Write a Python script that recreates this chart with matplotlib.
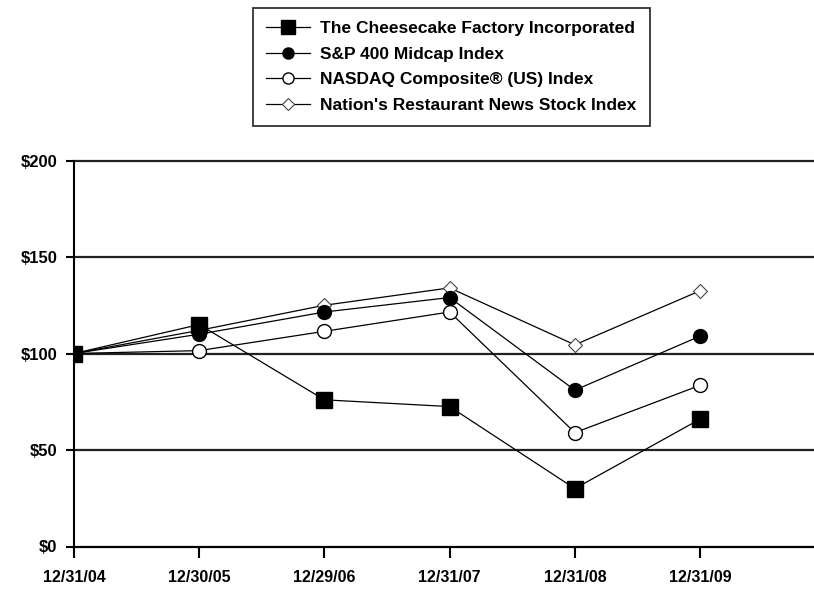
import numpy as np
import matplotlib
matplotlib.use("Agg")
import matplotlib.pyplot as plt

plt.rcParams['font.family'] = ['Liberation Sans', 'DejaVu Sans']

# Data
dates = ['12/31/04', '12/30/05', '12/29/06', '12/31/07', '12/31/08', '12/31/09']
cheesecake = [100, 115, 76, 72.5, 30, 66]
sp400 = [100, 110, 121.5, 129, 81, 109]
nasdaq = [100, 101.5, 111.5, 121.5, 59, 83.5]
nrn = [100, 112, 125, 134, 104.5, 132.5]

names = ['The Cheesecake Factory Incorporated', 'S&P 400 Midcap Index',
         'NASDAQ Composite\u00ae (US) Index', "Nation's Restaurant News Stock Index"]

fig = plt.figure(figsize=(8.14, 5.89), dpi=100)
ax = fig.add_axes([74/814, 1-546.5/589, 1-74/814, (546.5-160.5)/589])

x = np.arange(len(dates))
lw = 0.9
l4, = ax.plot(x, nrn, '-', color='black', lw=lw, marker='D', ms=7.5,
              mfc='white', mec='#444444', mew=0.8, zorder=3, label=names[3])
l3, = ax.plot(x, nasdaq, '-', color='black', lw=lw, marker='o', ms=10,
              mfc='white', mec='black', mew=1.0, zorder=4, label=names[2])
l2, = ax.plot(x, sp400, '-', color='black', lw=lw, marker='o', ms=10,
              mfc='black', mec='black', zorder=5, label=names[1])
l1, = ax.plot(x, cheesecake, '-', color='black', lw=lw, marker='s', ms=12,
              mfc='black', mec='black', zorder=6, label=names[0])

ax.set_xlim(0, 5.91)
ax.set_ylim(0, 200)
ax.set_yticks([0, 50, 100, 150, 200])
ax.set_yticklabels(['$0', '$50', '$100', '$150', '$200'])
ax.set_xticks(x)
ax.set_xticklabels(dates)

for v in [50, 100, 150, 200]:
    ax.axhline(v, color='#222222', lw=1.6, zorder=1, clip_on=False)

for s in ['top', 'right']:
    ax.spines[s].set_visible(False)
ax.spines['left'].set_linewidth(1.5)
ax.spines['bottom'].set_linewidth(1.6)
ax.tick_params(axis='y', direction='out', length=6, width=1.5, pad=6,
               labelsize=12)
ax.tick_params(axis='x', direction='out', length=8, width=1.5, pad=9,
               labelsize=11.5)
for t in ax.get_xticklabels() + ax.get_yticklabels():
    t.set_fontweight('bold')

leg = fig.legend(handles=[l1, l2, l3, l4], loc='upper center',
                 bbox_to_anchor=(451.5/814, 1-8/589), frameon=True,
                 fancybox=False, edgecolor='black', handlelength=2.5,
                 handletextpad=0.6, labelspacing=0.6, borderpad=0.75,
                 borderaxespad=0, markerscale=0.8,
                 prop={'size': 12.5, 'weight': 'bold'})
leg.get_frame().set_linewidth(1.3)

fig.savefig('out.png', dpi=100)
